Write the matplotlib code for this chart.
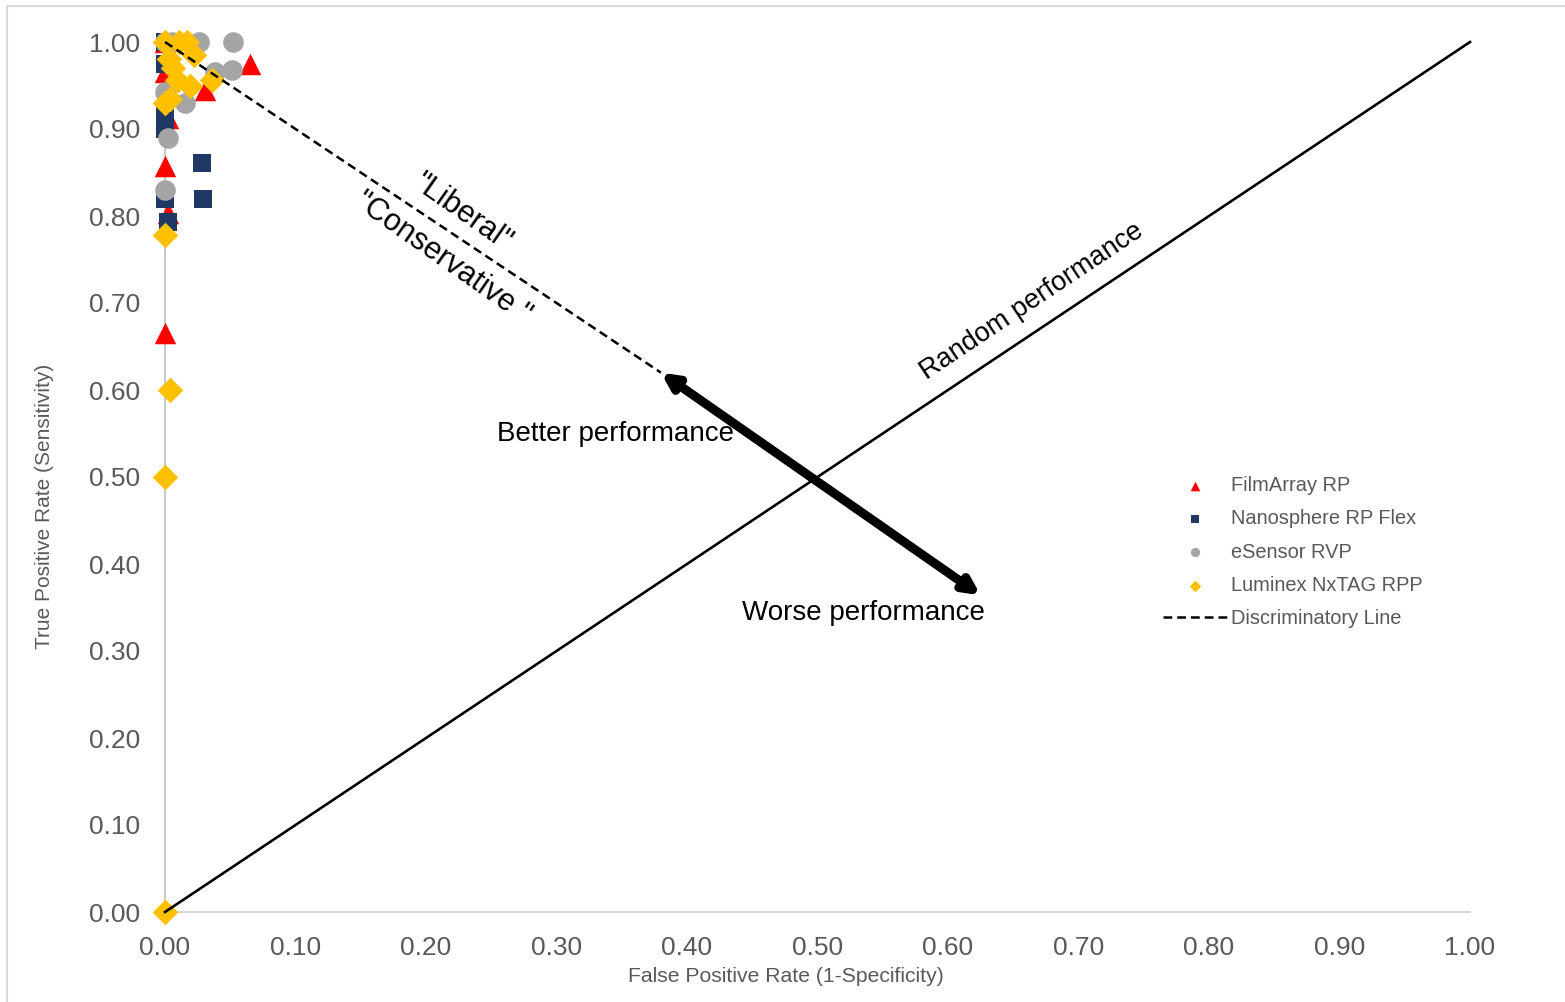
import matplotlib
matplotlib.use("Agg")
import matplotlib.pyplot as plt
from matplotlib.patches import Rectangle

plt.rcParams['font.family'] = ['Liberation Sans', 'DejaVu Sans']

# FilmArray RP
film_x = [0.000, 0.065, 0.031, 0.000, 0.003, 0.002, 0.000, 0.002, 0.000]
film_y = [1.000, 0.975, 0.945, 0.965, 0.955, 0.913, 0.857, 0.803, 0.666]
# Nanosphere RP Flex
nano_x = [0.000, 0.000, 0.000, 0.000, 0.028, 0.029, 0.000, 0.002]
nano_y = [1.000, 0.975, 0.920, 0.900, 0.861, 0.820, 0.820, 0.793]
# eSensor RVP
esen_x = [0.000, 0.005, 0.026, 0.052, 0.051, 0.038, 0.015, 0.000, 0.002, 0.000]
esen_y = [1.000, 1.000, 1.000, 1.000, 0.968, 0.966, 0.930, 0.943, 0.890, 0.830]
# Luminex NxTAG RPP
lumi_x = [0.000, 0.011, 0.017, 0.022, 0.003, 0.006, 0.009, 0.019, 0.036, 0.004,
          0.000, 0.000, 0.004, 0.000, 0.000]
lumi_y = [1.000, 1.000, 1.000, 0.985, 0.980, 0.970, 0.956, 0.950, 0.956, 0.935,
          0.930, 0.778, 0.600, 0.500, 0.000]

# reference lines
disc_x = [0.0, 0.38]
disc_y = [1.0, 0.62]
rand_x = [0.0, 1.0]
rand_y = [0.0, 1.0]
arrow_start = (0.38, 0.62)
arrow_end = (0.625, 0.364)

ticks = [i / 10 for i in range(11)]
tick_labels = [f"{t:.2f}" for t in ticks]

fig = plt.figure(figsize=(15.65, 10.02), dpi=100)
ax = fig.add_axes([165 / 1565, 90 / 1002, 1305 / 1565, 870 / 1002])

ax.scatter(film_x, film_y, marker='^', s=240, color='#ff0000', label='FilmArray RP',
           zorder=3, linewidths=0, clip_on=False)
ax.scatter(nano_x, nano_y, marker='s', s=150, color='#1f3864', label='Nanosphere RP Flex',
           zorder=4, linewidths=0, clip_on=False)
ax.scatter(esen_x, esen_y, marker='o', s=220, color='#a5a5a5', label='eSensor RVP',
           zorder=5, linewidths=0, clip_on=False)
ax.scatter(lumi_x, lumi_y, marker='D', s=170, color='#ffc000', label='Luminex NxTAG RPP',
           zorder=6, linewidths=0, clip_on=False)

ax.plot(disc_x, disc_y, color='black', ls=(0, (3.5, 2)), lw=1.8, label='Discriminatory Line',
        zorder=7, clip_on=False)
ax.plot(rand_x, rand_y, color='black', lw=1.9, zorder=7, clip_on=False)

ax.annotate('', xy=arrow_end, xytext=arrow_start,
            arrowprops=dict(arrowstyle='<|-|>', lw=6.5, color='black',
                            mutation_scale=22, shrinkA=0, shrinkB=0), zorder=8)

ax.set_xlim(0, 1)
ax.set_ylim(0, 1)
ax.set_xticks(ticks)
ax.set_xticklabels(tick_labels)
ax.set_yticks(ticks)
ax.set_yticklabels(tick_labels)
ax.tick_params(length=0, labelsize=19, labelcolor='#595959')
ax.tick_params(axis='x', pad=17)
ax.tick_params(axis='y', pad=18)
for side in ['top', 'right']:
    ax.spines[side].set_visible(False)
ax.spines['left'].set_color('#c8c8c8')
ax.spines['left'].set_linewidth(1.4)
ax.spines['bottom'].set_color('#d0d0d0')
ax.spines['bottom'].set_linewidth(1.2)

# annotations
ax.text(0.345, 0.549, 'Better performance', fontsize=20, color='black', ha='center', va='center', zorder=9)
ax.text(0.535, 0.344, 'Worse performance', fontsize=20, color='black', ha='center', va='center', zorder=9)
ax.text(0.664, 0.702, 'Random performance', fontsize=19.5, color='black', ha='center', va='center',
        rotation=33.7, zorder=9)
ax.text(0.228, 0.804, '"Liberal"', fontsize=22, color='black', ha='center', va='center',
        rotation=-35, zorder=9)
ax.text(0.213, 0.752, '"Conservative "', fontsize=22, color='black', ha='center', va='center',
        rotation=-35, zorder=9)

leg = ax.legend(loc='upper left', bbox_to_anchor=(0.751, 0.522), frameon=False, fontsize=14.4,
                labelcolor='#595959', handlelength=3.2, handletextpad=0.2,
                labelspacing=0.72, markerscale=0.45)

fig.text(786 / 1565, 1 - 977 / 1002, 'False Positive Rate (1-Specificity)', fontsize=15.2,
         color='#595959', ha='center', va='center')
fig.text(45 / 1565, 1 - 506 / 1002, 'True Positive Rate (Sensitivity)', fontsize=15,
         color='#595959', ha='center', va='center', rotation=90)

fig.patches.append(Rectangle((7 / 1565, -0.01), 1.1, 1 - 6 / 1002 + 0.01, transform=fig.transFigure,
                             fill=False, edgecolor='#d9d9d9', lw=1.5))

fig.savefig('out.png', dpi=100)
